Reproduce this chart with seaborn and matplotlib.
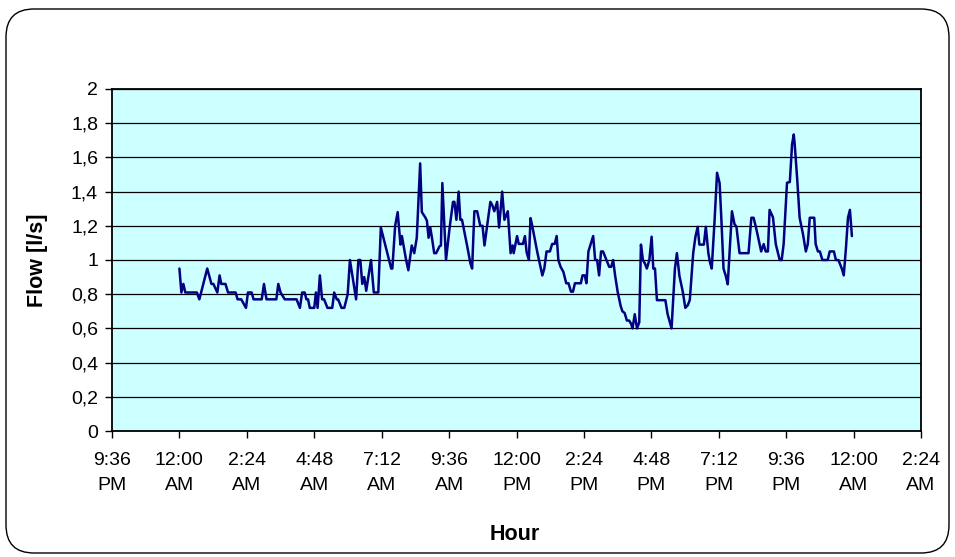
import numpy as np
import pandas as pd
import matplotlib
matplotlib.use("Agg")
import matplotlib.pyplot as plt
from matplotlib.patches import FancyBboxPatch
import seaborn as sns

# ---- data (hours after midnight, flow in l/s) ----
hours = [
    0.00, 0.07, 0.14, 0.21, 0.62, 0.71, 0.99, 1.14, 1.21, 1.35, 1.43, 1.49, 1.64, 1.73,
    2.00, 2.07, 2.20, 2.37, 2.44, 2.57, 2.64, 2.93, 3.01, 3.10, 3.45, 3.52, 3.60, 3.75,
    4.17, 4.29, 4.37, 4.46, 4.52, 4.58, 4.64, 4.80, 4.86, 4.92, 5.00, 5.08, 5.15, 5.27,
    5.44, 5.51, 5.60, 5.65, 5.77, 5.87, 5.99, 6.07, 6.29, 6.37, 6.44, 6.51, 6.58, 6.65,
    6.82, 6.92, 7.08, 7.17, 7.54, 7.58, 7.68, 7.77, 7.87, 7.92, 8.07, 8.15, 8.27, 8.36,
    8.45, 8.57, 8.63, 8.75, 8.81, 8.87, 8.93, 8.99, 9.07, 9.14, 9.26, 9.31, 9.36, 9.49,
    9.62, 9.74, 9.79, 9.86, 9.94, 10.00, 10.06, 10.24, 10.36, 10.42, 10.50, 10.60, 10.71,
    10.79, 10.86, 11.07, 11.14, 11.21, 11.31, 11.38, 11.49, 11.57, 11.69, 11.79, 11.86,
    11.90, 12.02, 12.08, 12.23, 12.30, 12.36, 12.44, 12.50, 12.56, 12.74, 12.92, 12.99,
    13.07, 13.19, 13.27, 13.36, 13.43, 13.49, 13.57, 13.67, 13.77, 13.85, 13.94, 14.01,
    14.08, 14.29, 14.35, 14.43, 14.49, 14.56, 14.73, 14.80, 14.87, 14.94, 15.01, 15.08,
    15.20, 15.30, 15.37, 15.44, 15.51, 15.60, 15.71, 15.77, 15.85, 15.93, 16.01, 16.08,
    16.13, 16.21, 16.29, 16.37, 16.43, 16.50, 16.57, 16.64, 16.73, 16.81, 16.87, 16.93,
    17.00, 17.30, 17.38, 17.52, 17.64, 17.71, 17.80, 17.92, 18.01, 18.10, 18.17, 18.29,
    18.37, 18.45, 18.51, 18.67, 18.74, 18.83, 18.89, 18.95, 19.05, 19.14, 19.23, 19.29,
    19.37, 19.45, 19.52, 19.62, 19.67, 19.76, 19.83, 19.94, 20.26, 20.36, 20.44, 20.54,
    20.63, 20.71, 20.80, 20.87, 20.95, 21.01, 21.13, 21.23, 21.37, 21.44, 21.51, 21.63,
    21.73, 21.81, 21.87, 21.90, 21.99, 22.08, 22.20, 22.30, 22.37, 22.44, 22.60, 22.65,
    22.73, 22.80, 22.89, 23.08, 23.15, 23.30, 23.37, 23.46, 23.54, 23.58, 23.65, 23.73,
    23.80, 23.87, 23.94,
]
flow = [
    0.95, 0.81, 0.86, 0.81, 0.81, 0.77, 0.95, 0.86, 0.86, 0.81, 0.91, 0.86, 0.86, 0.81,
    0.81, 0.77, 0.77, 0.72, 0.81, 0.81, 0.77, 0.77, 0.86, 0.77, 0.77, 0.86, 0.81, 0.77,
    0.77, 0.72, 0.81, 0.81, 0.77, 0.77, 0.72, 0.72, 0.81, 0.72, 0.91, 0.77, 0.77, 0.72,
    0.72, 0.81, 0.77, 0.77, 0.72, 0.72, 0.80, 1.00, 0.77, 1.00, 1.00, 0.86, 0.90, 0.82,
    1.00, 0.81, 0.81, 1.19, 0.95, 0.95, 1.20, 1.28, 1.09, 1.14, 1.00, 0.94, 1.085, 1.04,
    1.13, 1.565, 1.28, 1.25, 1.23, 1.13, 1.19, 1.13, 1.04, 1.04, 1.08, 1.085, 1.45, 1.00,
    1.19, 1.34, 1.34, 1.235, 1.40, 1.235, 1.235, 1.085, 0.98, 0.95, 1.285, 1.285, 1.20,
    1.20, 1.085, 1.34, 1.32, 1.285, 1.34, 1.19, 1.40, 1.235, 1.285, 1.04, 1.085,
    1.04, 1.14, 1.094, 1.094, 1.14, 1.046, 1.00, 1.245, 1.20, 1.046, 0.91, 0.95,
    1.05, 1.05, 1.094, 1.094, 1.14, 1.00, 0.96, 0.93, 0.864, 0.864, 0.815, 0.815,
    0.864, 0.864, 0.91, 0.91, 0.864, 1.05, 1.14, 1.00, 1.00, 0.91, 1.05, 1.05,
    1.00, 0.96, 0.96, 1.00, 0.91, 0.815, 0.73, 0.70, 0.69, 0.646, 0.646, 0.627,
    0.60, 0.683, 0.60, 0.635, 1.09, 1.00, 0.98, 0.95, 1.00, 1.136, 0.95, 0.95,
    0.765, 0.765, 0.683, 0.60, 0.95, 1.04, 0.907, 0.814, 0.72, 0.736, 0.767, 1.04,
    1.136, 1.194, 1.09, 1.09, 1.194, 1.04, 0.985, 0.95, 1.227, 1.51, 1.45, 1.25,
    0.95, 0.907, 0.858, 1.136, 1.285, 1.21, 1.194, 1.04, 1.04, 1.247, 1.247, 1.18,
    1.11, 1.05, 1.093, 1.05, 1.05, 1.293, 1.25, 1.093, 1.00, 1.00, 1.093, 1.452,
    1.456, 1.676, 1.734, 1.685, 1.48, 1.247, 1.15, 1.05, 1.093, 1.247, 1.247, 1.093,
    1.05, 1.05, 1.00, 1.00, 1.05, 1.05, 1.00, 1.00, 0.967, 0.95, 0.91, 1.074,
    1.247, 1.293, 1.14,
]

x_ticks = [-2.4, 0.0, 2.4, 4.8, 7.2, 9.6, 12.0, 14.4, 16.8, 19.2, 21.6, 24.0, 26.4]
x_tick_labels = ["9:36\nPM", "12:00\nAM", "2:24\nAM", "4:48\nAM", "7:12\nAM", "9:36\nAM",
                 "12:00\nPM", "2:24\nPM", "4:48\nPM", "7:12\nPM", "9:36\nPM", "12:00\nAM",
                 "2:24\nAM"]
y_ticks = [0, 0.2, 0.4, 0.6, 0.8, 1.0, 1.2, 1.4, 1.6, 1.8, 2.0]
y_tick_labels = ["0", "0,2", "0,4", "0,6", "0,8", "1", "1,2", "1,4", "1,6", "1,8", "2"]

df = pd.DataFrame({"hour": hours, "flow": flow})

sns.set_theme(style="white")
plt.rcParams["font.family"] = ["Liberation Sans", "DejaVu Sans"]

W, H, DPI = 955, 557, 100
fig = plt.figure(figsize=(W / DPI, H / DPI), dpi=DPI)
fig.patch.set_facecolor("white")

# rounded chart frame
frame = FancyBboxPatch((0.06, 0.04), 9.43, 5.44,
                       boxstyle="round,pad=0,rounding_size=0.28",
                       transform=fig.dpi_scale_trans, facecolor="none",
                       edgecolor="black", linewidth=1.0, zorder=5)
fig.patches.append(frame)

L, R, T, B = 112, 921, 89, 431
ax = fig.add_axes([L / W, (H - B) / H, (R - L) / W, (B - T) / H])
ax.set_facecolor("#CCFFFF")

sns.lineplot(data=df, x="hour", y="flow", ax=ax, color="#000080",
             linewidth=1.8, estimator=None, sort=False, zorder=3)

ax.set_xlim(-2.4, 26.4)
ax.set_ylim(0, 2)
ax.set_xticks(x_ticks)
ax.set_xticklabels(x_tick_labels, fontsize=14, linespacing=1.65)
ax.set_yticks(y_ticks)
ax.set_yticklabels(y_tick_labels, fontsize=14)
ax.tick_params(axis="both", which="major", direction="out", length=5, width=1,
               color="black", labelcolor="black", bottom=True, left=True)
ax.tick_params(axis="x", pad=10)
ax.tick_params(axis="y", pad=5)

ax.grid(False)
ax.yaxis.grid(True, color="black", linewidth=0.9)
ax.set_axisbelow(True)
for s in ax.spines.values():
    s.set_visible(True)
    s.set_color("black")
    s.set_linewidth(1.3)

ax.set_xlabel("Hour", fontsize=15.5, fontweight="bold", color="black")
ax.set_ylabel("Flow [l/s]", fontsize=15.5, fontweight="bold", color="black")
ax.xaxis.set_label_coords((515 - L) / (R - L), (B - 535) / (B - T))
ax.xaxis.label.set_va("center")
ax.yaxis.set_label_coords((37 - L) / (R - L), (B - 260) / (B - T))
ax.yaxis.label.set_va("center")

fig.savefig("out.png", dpi=DPI, facecolor="white")
